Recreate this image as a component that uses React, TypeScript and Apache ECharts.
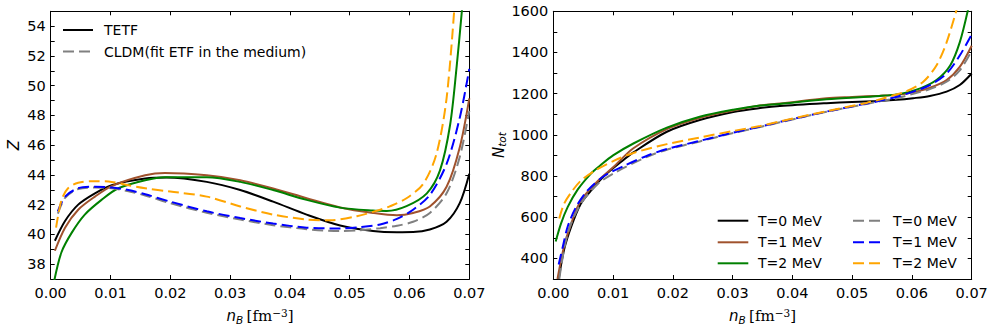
import React, { useEffect, useRef } from "react";
import * as echarts from "echarts";

// ---------- Data: left panel, Z vs n_B ----------
const zTetfT0: number[][] = [
  [0.0007, 39.57], [0.0024, 40.9], [0.0046, 42.0], [0.0074, 42.76], [0.0102, 43.3],
  [0.0158, 43.75], [0.0194, 43.82], [0.0261, 43.53], [0.0317, 42.98], [0.0372, 42.2],
  [0.0428, 41.33], [0.0484, 40.6], [0.0539, 40.23], [0.0579, 40.15], [0.0606, 40.16],
  [0.0634, 40.33], [0.0662, 40.85], [0.0684, 42.1], [0.07, 44.08],
];
const zTetfT1: number[][] = [
  [0.0007, 38.9], [0.0024, 40.45], [0.0046, 41.66], [0.0074, 42.54], [0.0102, 43.25],
  [0.0158, 43.97], [0.0191, 44.13], [0.0261, 43.97], [0.0317, 43.64], [0.0372, 43.09],
  [0.0428, 42.43], [0.0484, 41.81], [0.0539, 41.44], [0.0579, 41.28], [0.0606, 41.44],
  [0.0634, 41.88], [0.0662, 43.2], [0.0684, 45.85], [0.07, 49.15],
];
const zTetfT2: number[][] = [
  [0.0006, 36.9], [0.0018, 38.8], [0.0035, 40.1], [0.0057, 41.33], [0.0085, 42.32],
  [0.0113, 43.1], [0.0158, 43.64], [0.0191, 43.84], [0.0261, 43.84], [0.0317, 43.53],
  [0.0372, 42.98], [0.0428, 42.32], [0.0484, 41.8], [0.0539, 41.6], [0.0562, 41.58],
  [0.0595, 41.9], [0.0629, 42.76], [0.0651, 44.3], [0.0668, 47.39], [0.0679, 51.35],
  [0.0688, 55.2],
];
const zCldmT0: number[][] = [
  [0.0012, 41.4], [0.0024, 42.45], [0.0046, 43.05], [0.0074, 43.15], [0.0102, 43.1],
  [0.013, 42.9], [0.0158, 42.62], [0.02, 42.1], [0.0261, 41.45], [0.0317, 41.0],
  [0.0372, 40.62], [0.0428, 40.35], [0.0484, 40.22], [0.0517, 40.28], [0.0551, 40.42],
  [0.0579, 40.58], [0.0606, 40.85], [0.0634, 41.44], [0.0662, 42.76], [0.0684, 45.2],
  [0.07, 48.3],
];
const zCldmT1: number[][] = [
  [0.0012, 41.55], [0.0024, 42.54], [0.0046, 43.1], [0.0074, 43.2], [0.0102, 43.15],
  [0.013, 42.98], [0.0158, 42.7], [0.02, 42.2], [0.0261, 41.55], [0.0317, 41.1],
  [0.0372, 40.73], [0.0428, 40.45], [0.0484, 40.4], [0.0517, 40.49], [0.0551, 40.67],
  [0.0579, 41.04], [0.0606, 41.66], [0.0634, 42.65], [0.0662, 44.74], [0.0684, 47.83],
  [0.07, 51.13],
];
const zCldmT2: number[][] = [
  [0.0009, 40.45], [0.0018, 42.3], [0.0029, 43.1], [0.0046, 43.47], [0.0074, 43.58],
  [0.0102, 43.53], [0.013, 43.3], [0.0158, 43.1], [0.02, 42.88], [0.0261, 42.54],
  [0.0317, 41.88], [0.0372, 41.33], [0.0428, 41.0], [0.0467, 40.95], [0.0512, 41.22],
  [0.0551, 41.66], [0.0567, 41.88], [0.0595, 42.43], [0.0623, 43.4], [0.0645, 45.4],
  [0.0662, 49.15], [0.0675, 55.2],
];

// ---------- Data: right panel, N_tot vs n_B ----------
const nTetfT0: number[][] = [
  [0.0009, 300], [0.0018, 442], [0.003, 554], [0.0046, 665], [0.0063, 729],
  [0.0085, 800], [0.0113, 868], [0.0134, 915], [0.019, 1015], [0.0245, 1072],
  [0.0301, 1111], [0.0346, 1130], [0.0379, 1140], [0.0457, 1154], [0.05, 1160],
  [0.0546, 1165], [0.0575, 1170], [0.0602, 1178], [0.063, 1189], [0.0658, 1210],
  [0.068, 1242], [0.07, 1298],
];
const nTetfT1: number[][] = [
  [0.0007, 300], [0.0018, 458], [0.003, 570], [0.0046, 681], [0.0074, 775],
  [0.0102, 848], [0.0134, 935], [0.019, 1028], [0.0245, 1082], [0.0301, 1118],
  [0.0346, 1143], [0.0379, 1152], [0.0457, 1178], [0.05, 1184], [0.0546, 1190],
  [0.0575, 1195], [0.0602, 1207], [0.063, 1229], [0.0658, 1266], [0.068, 1330],
  [0.07, 1433],
];
const nTetfT2: number[][] = [
  [0.0004, 482], [0.0013, 570], [0.0024, 649], [0.0041, 735], [0.0063, 812],
  [0.0078, 850], [0.01, 900], [0.0134, 958], [0.019, 1035], [0.0245, 1088],
  [0.0301, 1122], [0.0346, 1142], [0.0379, 1150], [0.0457, 1173], [0.0546, 1189],
  [0.058, 1199], [0.0614, 1226], [0.0641, 1266], [0.0664, 1337], [0.068, 1449],
  [0.0694, 1610],
];
const nCldmT0: number[][] = [
  [0.001, 300], [0.0024, 522], [0.0046, 665], [0.0074, 760], [0.0102, 815],
  [0.0158, 895], [0.019, 928], [0.0245, 968], [0.0301, 1009], [0.0346, 1038],
  [0.0379, 1061], [0.0457, 1112], [0.0524, 1150], [0.0546, 1163], [0.0575, 1178],
  [0.0602, 1199], [0.063, 1222], [0.0658, 1258], [0.068, 1313], [0.07, 1409],
];
const nCldmT1: number[][] = [
  [0.0009, 370], [0.0016, 458], [0.0024, 554], [0.0038, 649], [0.0057, 729],
  [0.0085, 800], [0.0119, 850], [0.0158, 900], [0.019, 931], [0.0245, 971],
  [0.0301, 1011], [0.0346, 1040], [0.0379, 1063], [0.0457, 1113], [0.0524, 1152],
  [0.0546, 1165], [0.0575, 1185], [0.0602, 1210], [0.063, 1242], [0.0658, 1298],
  [0.068, 1385], [0.07, 1488],
];
const nCldmT2: number[][] = [
  [0.001, 594], [0.0018, 665], [0.003, 721], [0.0046, 777], [0.0069, 825],
  [0.0102, 875], [0.0134, 912], [0.019, 955], [0.0245, 987], [0.0301, 1019],
  [0.0346, 1043], [0.0379, 1065], [0.0457, 1115], [0.0524, 1155], [0.0546, 1172],
  [0.0569, 1192], [0.0591, 1212], [0.0619, 1258], [0.0641, 1337], [0.0658, 1449],
  [0.0675, 1610],
];

const leftLegend = ["TETF", "CLDM(fit ETF in the medium)"];
const rightLegendSolid = ["T=0 MeV", "T=1 MeV", "T=2 MeV"];
const rightLegendDashed = ["T=0 MeV", "T=1 MeV", "T=2 MeV"];

const solidColors = ["#000000", "#a0522d", "#008000"];
const dashedColors = ["#808080", "#0000ff", "#ffa500"];
const DASH = [11, 5];
const FONT = "DejaVu Sans";

export default function App() {
  const ref = useRef<HTMLDivElement>(null);

  useEffect(() => {
    if (!ref.current) return;
    const chart = echarts.init(ref.current, undefined, { renderer: "svg" });

    const grids = [
      { left: 50.7, top: 11.3, width: 418.6, height: 272.7 },
      { left: 553.3, top: 11.3, width: 418.4, height: 272.7 },
    ];

    const axisLine = { show: true, onZero: false, lineStyle: { color: "#000", width: 1 } };
    const tick = { show: true, inside: true, length: 4, lineStyle: { color: "#000", width: 1 } };
    const labelStyle = { color: "#000", fontFamily: FONT, fontSize: 14.5 };

    const xBase = (gi: number) => ({
      type: "value",
      gridIndex: gi,
      min: 0,
      max: 0.07,
      interval: 0.01,
      splitLine: { show: false },
      axisLine,
      axisTick: tick,
    });

    const xName = {
      name: "{i|n}{sub|B} {r|[fm}{sup|−3}{r|]}",
      nameLocation: "middle",
      nameGap: 28,
      nameTextStyle: {
        rich: {
          i: { fontFamily: FONT, fontStyle: "italic", fontSize: 15, color: "#000" },
          sub: { fontFamily: FONT, fontStyle: "italic", fontSize: 10.5, color: "#000", verticalAlign: "bottom", padding: [6, 0, 0, 0] },
          r: { fontFamily: "DejaVu Serif", fontSize: 15, color: "#000" },
          sup: { fontFamily: "DejaVu Serif", fontSize: 10.5, color: "#000", verticalAlign: "top", padding: [0, 0, 7, 0] },
        },
      },
    };

    const xAxes = [
      { ...xBase(0), position: "bottom", axisLabel: { ...labelStyle, margin: 6, formatter: (v: number) => v.toFixed(2) }, ...xName },
      { ...xBase(1), position: "bottom", axisLabel: { ...labelStyle, margin: 6, formatter: (v: number) => v.toFixed(2) }, ...xName },
      { ...xBase(0), position: "top", axisLabel: { show: false } },
      { ...xBase(1), position: "top", axisLabel: { show: false } },
    ];

    const yAxes = [
      {
        type: "value", gridIndex: 0, min: 37, max: 55, interval: 1, position: "left",
        splitLine: { show: false }, axisLine, axisTick: { ...tick, interval: (i: number, v: any) => Number(v) % 2 === 0 },
        axisLabel: { ...labelStyle, margin: 5, formatter: (v: number) => (v % 2 === 0 ? String(v) : "") },
        name: "{z|Z}", nameLocation: "middle", nameGap: 29, nameRotate: 90,
        nameTextStyle: { rich: { z: { fontFamily: FONT, fontStyle: "italic", fontSize: 15, color: "#000" } } },
      },
      {
        type: "value", gridIndex: 1, min: 300, max: 1600, interval: 100, position: "left",
        splitLine: { show: false }, axisLine, axisTick: { ...tick, interval: (i: number, v: any) => Number(v) % 200 === 0 },
        axisLabel: { ...labelStyle, margin: 5, formatter: (v: number) => (v % 200 === 0 ? String(v) : "") },
        name: "{i|N}{sub|tot}", nameLocation: "middle", nameGap: 42, nameRotate: 90,
        nameTextStyle: {
          rich: {
            i: { fontFamily: FONT, fontStyle: "italic", fontSize: 15, color: "#000" },
            sub: { fontFamily: FONT, fontStyle: "italic", fontSize: 10.5, color: "#000", padding: [6, 0, 0, 0] },
          },
        },
      },
      {
        type: "value", gridIndex: 0, min: 37, max: 55, interval: 1, position: "right",
        splitLine: { show: false }, axisLine, axisTick: { ...tick, interval: (i: number, v: any) => Number(v) % 2 === 0 },
        axisLabel: { show: false },
      },
      {
        type: "value", gridIndex: 1, min: 300, max: 1600, interval: 100, position: "right",
        splitLine: { show: false }, axisLine, axisTick: { ...tick, interval: (i: number, v: any) => Number(v) % 200 === 0 },
        axisLabel: { show: false },
      },
    ];

    const mk = (name: string, data: number[][], gi: number, color: string, dashed: boolean) => ({
      name,
      type: "line",
      xAxisIndex: gi,
      yAxisIndex: gi,
      data,
      showSymbol: false,
      symbol: "none",
      smooth: 0.3,
      clip: true,
      lineStyle: { color, width: 2, type: dashed ? DASH : "solid" },
      silent: true,
    });

    const series = [
      mk("Z TETF T0", zTetfT0, 0, solidColors[0], false),
      mk("Z TETF T1", zTetfT1, 0, solidColors[1], false),
      mk("Z TETF T2", zTetfT2, 0, solidColors[2], false),
      mk("Z CLDM T0", zCldmT0, 0, dashedColors[0], true),
      mk("Z CLDM T1", zCldmT1, 0, dashedColors[1], true),
      mk("Z CLDM T2", zCldmT2, 0, dashedColors[2], true),
      mk("N TETF T0", nTetfT0, 1, solidColors[0], false),
      mk("N TETF T1", nTetfT1, 1, solidColors[1], false),
      mk("N TETF T2", nTetfT2, 1, solidColors[2], false),
      mk("N CLDM T0", nCldmT0, 1, dashedColors[0], true),
      mk("N CLDM T1", nCldmT1, 1, dashedColors[1], true),
      mk("N CLDM T2", nCldmT2, 1, dashedColors[2], true),
    ];

    const legendItem = (x1: number, x2: number, y: number, tx: number, color: string, dashed: boolean, text: string) => [
      {
        type: "line",
        shape: { x1, y1: y, x2, y2: y },
        style: { stroke: color, lineWidth: 2, lineDash: dashed ? DASH : null },
        silent: true,
      },
      {
        type: "text",
        x: tx,
        y,
        style: { text, fill: "#000", font: `14px "${FONT}"`, verticalAlign: "middle" },
        silent: true,
      },
    ];

    const rows = [220.7, 242.3, 263.3];
    const graphic: any[] = [
      ...legendItem(63, 93, 30, 104, solidColors[0], false, leftLegend[0]),
      ...legendItem(63, 93, 51.5, 104, dashedColors[0], true, leftLegend[1]),
    ];
    rows.forEach((y, i) => {
      graphic.push(...legendItem(717.7, 748.3, y, 758, solidColors[i], false, rightLegendSolid[i]));
      graphic.push(...legendItem(853, 883, y, 893, dashedColors[i], true, rightLegendDashed[i]));
    });

    chart.setOption({
      animation: false,
      backgroundColor: "#fff",
      grid: grids,
      xAxis: xAxes,
      yAxis: yAxes,
      series,
      graphic,
    } as any);

    return () => chart.dispose();
  }, []);

  return (
    <div
      ref={ref}
      style={{ position: "absolute", left: 0, top: 0, width: 992, height: 330, background: "#fff" }}
    />
  );
}
